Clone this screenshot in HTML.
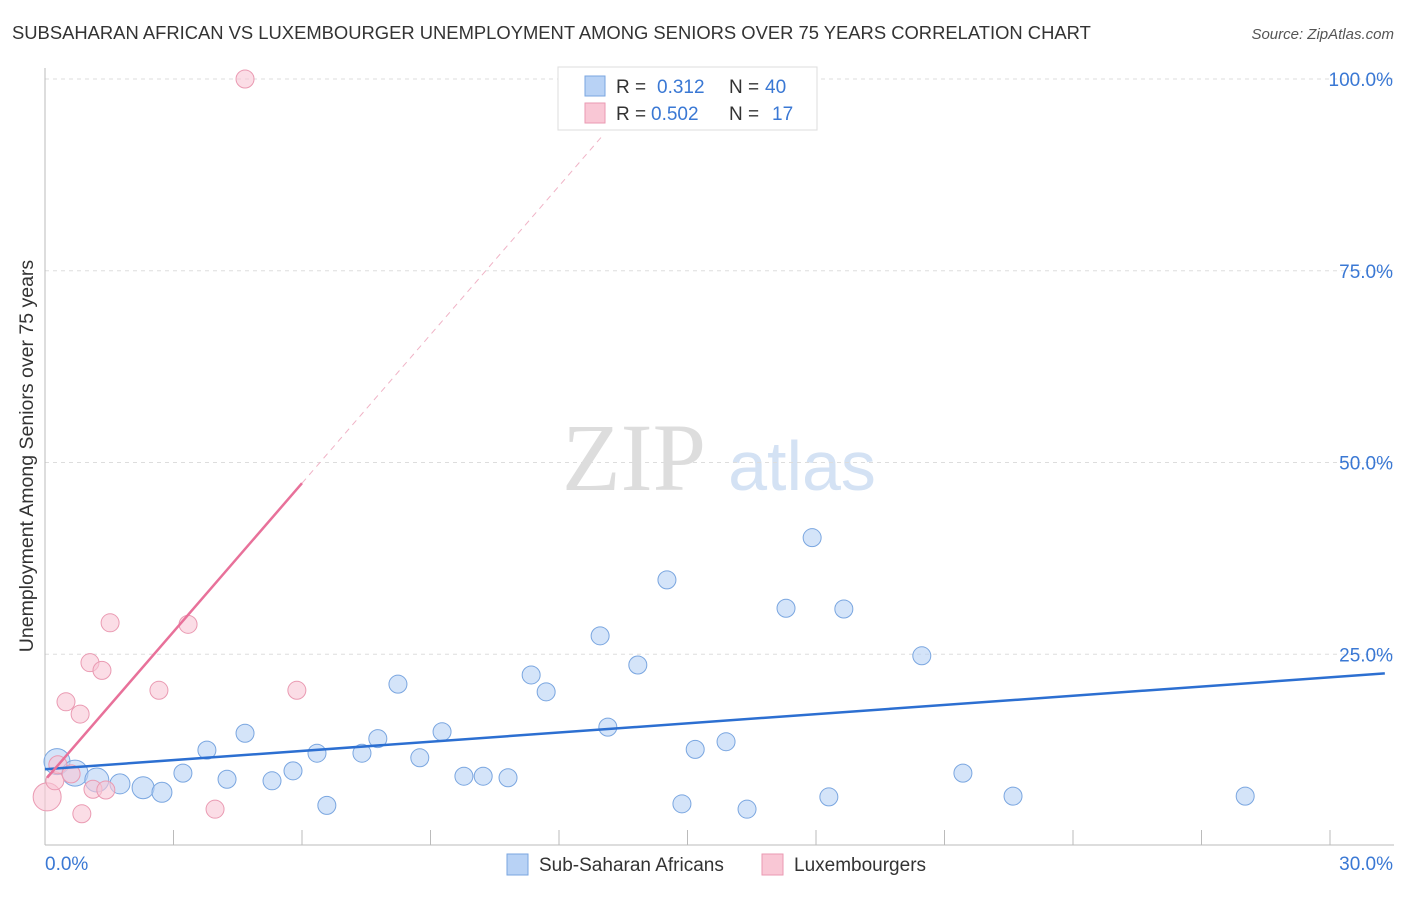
<!DOCTYPE html>
<html><head><meta charset="utf-8">
<style>
body{margin:0;background:#fff;font-family:"Liberation Sans",sans-serif;}
svg text{font-family:"Liberation Sans",sans-serif;}
</style></head>
<body>
<svg id="chart" width="1406" height="892" viewBox="0 0 1406 892" xmlns="http://www.w3.org/2000/svg">
<text x="12" y="39" font-size="18.4" fill="#333">SUBSAHARAN AFRICAN VS LUXEMBOURGER UNEMPLOYMENT AMONG SENIORS OVER 75 YEARS CORRELATION CHART</text>
<text x="1394" y="39" font-size="15" fill="#555" text-anchor="end" font-style="italic">Source: ZipAtlas.com</text>
<g>
<text x="634" y="490" font-size="96" fill="#ddd" font-family="Liberation Serif" text-anchor="middle" style="font-family:'Liberation Serif',serif">ZIP</text>
<text x="802" y="490" font-size="70" fill="#d4e2f4" text-anchor="middle">atlas</text>
</g>
<g id="grid"></g>
<g id="axes"></g>
<g id="marks"></g>
<text transform="translate(33,456) rotate(-90)" font-size="19.5" fill="#333" text-anchor="middle">Unemployment Among Seniors over 75 years</text>
<g>
<rect x="558" y="67" width="259" height="63" fill="#fff" stroke="#ddd"/>
<rect x="585" y="76" width="20" height="20" fill="#b8d2f5" stroke="#7aa6e0"/>
<text x="616" y="93" font-size="19" fill="#333">R = </text><text x="657" y="93" font-size="19" fill="#3a78d4">0.312</text>
<text x="729" y="93" font-size="19" fill="#333">N = </text><text x="765" y="93" font-size="19" fill="#3a78d4">40</text>
<rect x="585" y="103" width="20" height="20" fill="#f9c7d5" stroke="#ea9ab2"/>
<text x="616" y="120" font-size="19" fill="#333">R = </text><text x="651" y="120" font-size="19" fill="#3a78d4">0.502</text>
<text x="729" y="120" font-size="19" fill="#333">N = </text><text x="772" y="120" font-size="19" fill="#3a78d4">17</text>
</g>
<g>
<rect x="507" y="854" width="21" height="21" fill="#b8d2f5" stroke="#7aa6e0"/>
<text x="539" y="871" font-size="19" fill="#333">Sub-Saharan Africans</text>
<rect x="762" y="854" width="21" height="21" fill="#f9c7d5" stroke="#ea9ab2"/>
<text x="794" y="871" font-size="19" fill="#333">Luxembourgers</text>
</g>
</svg>
<script>
const blueX=[0.28,0.7,1.21,1.75,2.29,2.73,3.22,3.78,4.25,4.67,5.30,5.79,6.35,6.58,7.40,7.77,8.24,8.75,9.27,9.78,10.23,10.81,11.35,11.70,12.96,13.14,13.84,14.52,14.87,15.18,15.90,16.39,17.30,17.91,18.30,18.65,20.47,21.43,22.60,28.02];
const blueY=[11.0,9.5,8.6,8.1,7.6,7.0,9.5,12.5,8.7,14.7,8.5,9.8,12.1,5.3,12.1,14.0,21.1,11.5,14.9,9.1,9.1,8.9,22.3,20.1,27.4,15.5,23.6,34.7,5.5,12.6,13.6,4.8,31.0,40.2,6.4,30.9,24.8,9.5,6.5,6.5];
const blueR=[13,13,12,10,11,10,9,9,9,9,9,9,9,9,9,9,9,9,9,9,9,9,9,9,9,9,9,9,9,9,9,9,9,9,9,9,9,9,9,9];
const pinkX=[0.05,0.23,0.30,0.49,0.61,0.82,0.86,1.05,1.12,1.33,1.42,1.52,2.66,3.34,3.97,4.67,5.88];
const pinkY=[6.4,8.5,10.6,18.8,9.4,17.2,4.2,23.9,7.4,22.9,7.3,29.1,20.3,28.9,4.8,100,20.3];
const pinkR=[14,9,9,9,9,9,9,9,9,9,9,9,9,9,9,9,9];
const blueTrend=[[0,10.0],[31.28,22.5]];
const pinkTrendSolid=[[0.05,8.9],[6.0,47.3]];
const pinkTrendDash=[[6.0,47.3],[13.0,92.5]];
const yTicks=[25,50,75,100];
const yTickLabels=["25.0%","50.0%","75.0%","100.0%"];
const xTicks=[0,3,6,9,12,15,18,21,24,27,30];
const NS="http://www.w3.org/2000/svg";
const xs=v=>45+v/30*1285;
const ys=v=>846-v*7.67;
function mk(tag,attrs,parent){const e=document.createElementNS(NS,tag);for(const k in attrs)e.setAttribute(k,attrs[k]);parent.appendChild(e);return e;}
const grid=document.getElementById('grid'),axes=document.getElementById('axes'),marks=document.getElementById('marks');
yTicks.forEach((t,i)=>{
 const l=mk('line',{x1:45,x2:1394,y1:ys(t),y2:ys(t),stroke:'#ddd','stroke-dasharray':'4,4'},grid);
 
 
 const tx=mk('text',{x:1393,y:ys(t)+7,'font-size':19,fill:'#3a78d4','text-anchor':'end'},axes);
 tx.textContent=yTickLabels[i];
 
 
});
const ax=mk('line',{x1:45,x2:45,y1:68,y2:845,stroke:'#bbb'},axes);


const bx=mk('line',{x1:45,x2:1394,y1:845,y2:845,stroke:'#bbb'},axes);


xTicks.forEach(t=>{
 const l=mk('line',{x1:xs(t),x2:xs(t),y1:830,y2:845,stroke:'#bbb'},axes);
 
 
});
const xl0=mk('text',{x:45,y:870,'font-size':19,fill:'#3a78d4'},axes);xl0.textContent='0.0%';


const xl1=mk('text',{x:1393,y:870,'font-size':19,fill:'#3a78d4','text-anchor':'end'},axes);xl1.textContent='30.0%';


blueX.forEach((x,i)=>{
 const c=mk('circle',{cx:xs(x),cy:ys(blueY[i]),r:blueR[i],fill:'rgba(184,210,245,0.6)',stroke:'#7aa6e0','stroke-width':1},marks);
 
 
});
pinkX.forEach((x,i)=>{
 const c=mk('circle',{cx:xs(x),cy:ys(pinkY[i]),r:pinkR[i],fill:'rgba(249,199,213,0.6)',stroke:'#ea9ab2','stroke-width':1},marks);
 
 
});
const bl=mk('line',{x1:xs(blueTrend[0][0]),y1:ys(blueTrend[0][1]),x2:xs(blueTrend[1][0]),y2:ys(blueTrend[1][1]),stroke:'#2c6fd1','stroke-width':2.5},marks);


const pl=mk('line',{x1:xs(pinkTrendSolid[0][0]),y1:ys(pinkTrendSolid[0][1]),x2:xs(pinkTrendSolid[1][0]),y2:ys(pinkTrendSolid[1][1]),stroke:'#e8719a','stroke-width':2.5},marks);


const pd=mk('line',{x1:xs(pinkTrendDash[0][0]),y1:ys(pinkTrendDash[0][1]),x2:xs(pinkTrendDash[1][0]),y2:ys(pinkTrendDash[1][1]),stroke:'#f0b3c6','stroke-width':1,'stroke-dasharray':'6,5'},marks);


</script>
</body></html>
